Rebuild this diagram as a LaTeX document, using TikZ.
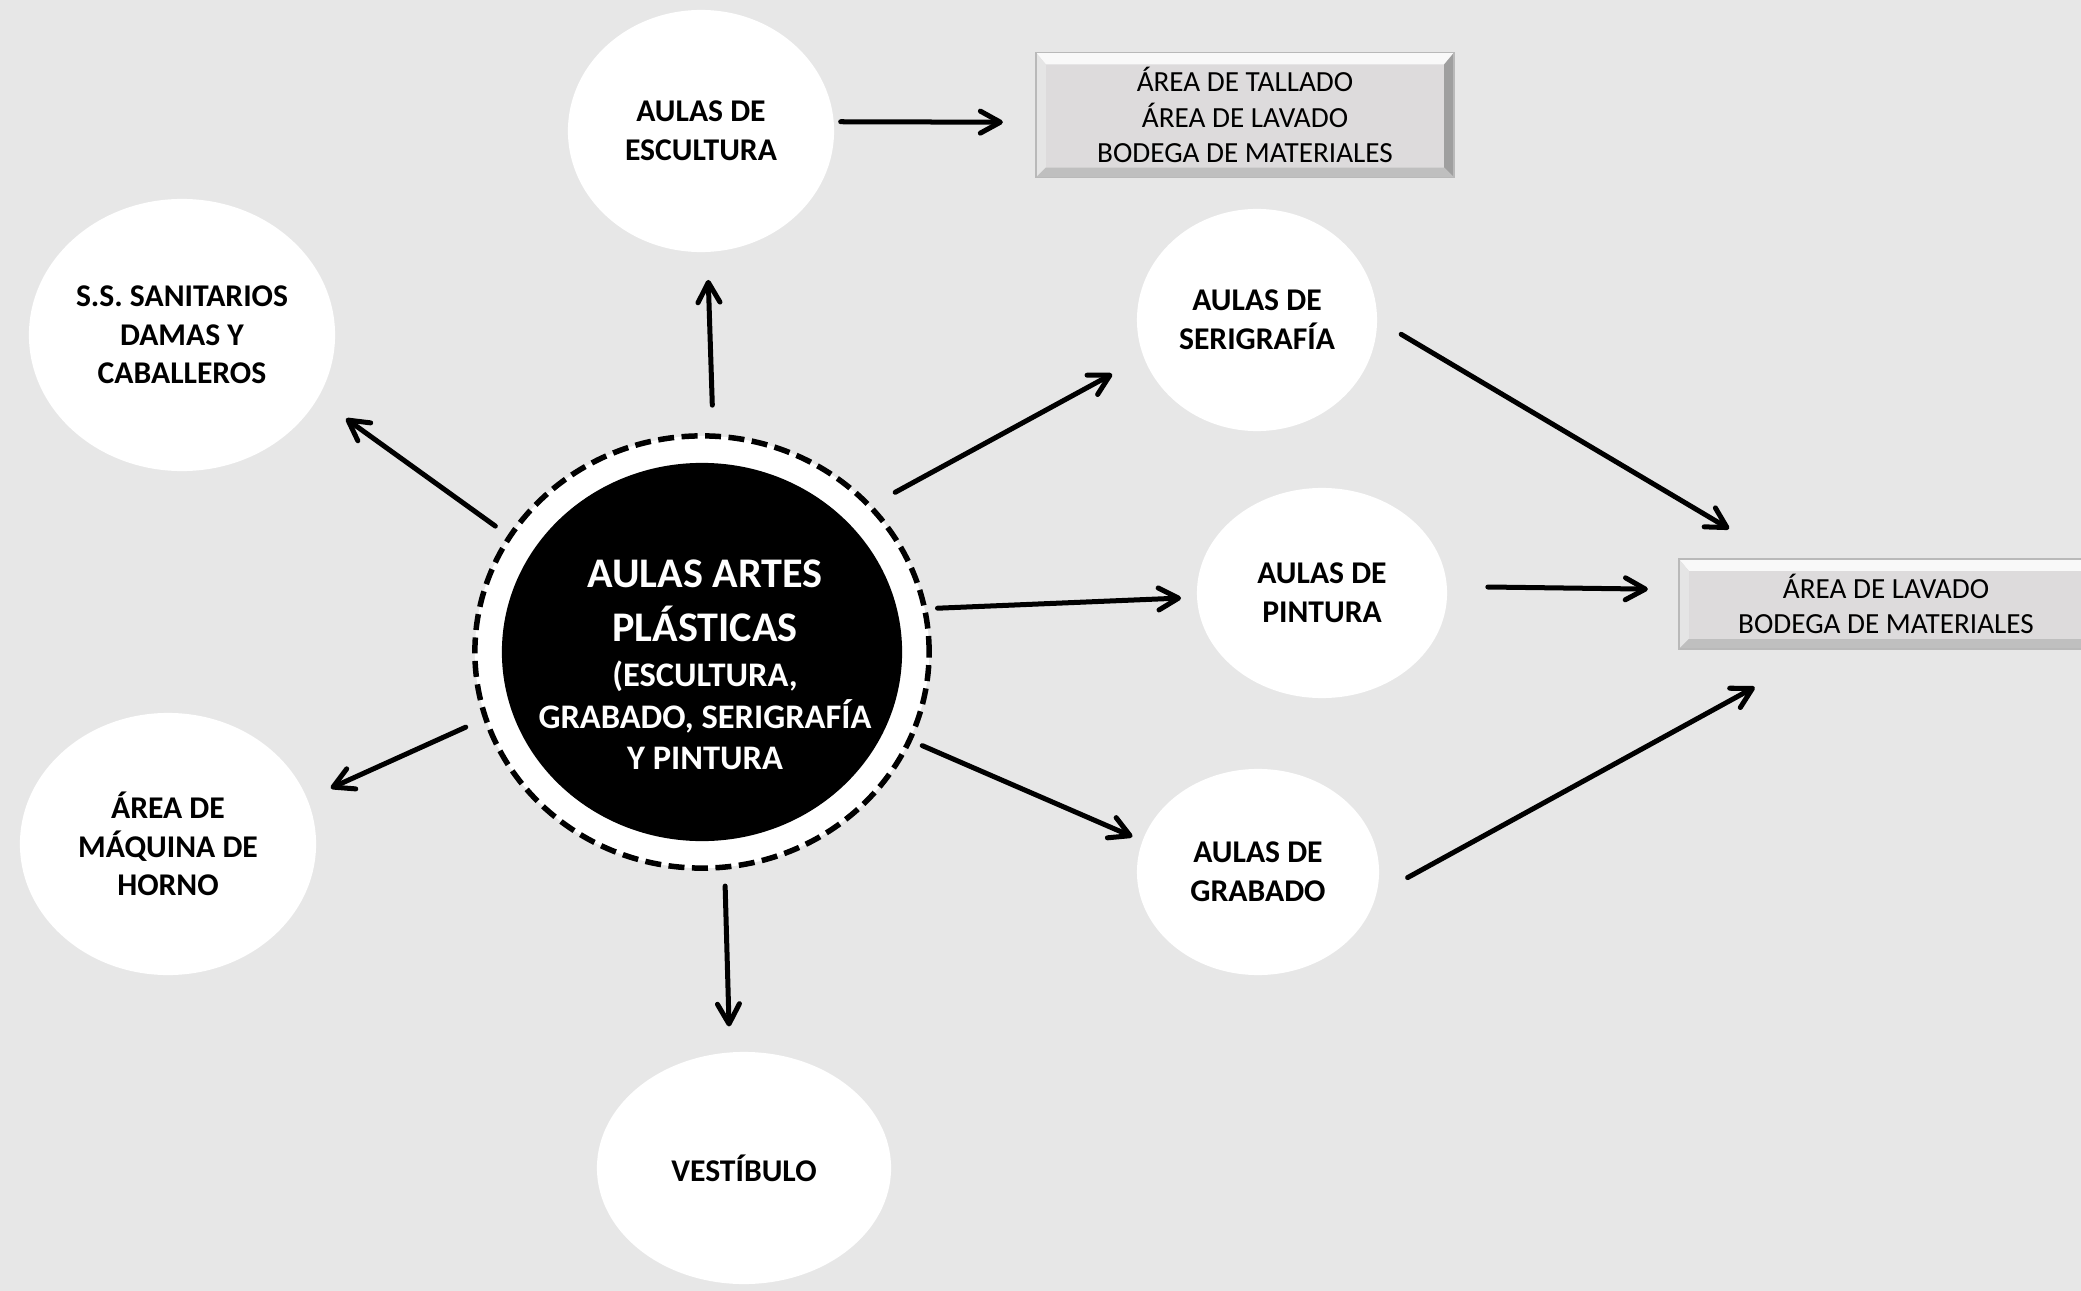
\documentclass[tikz,border=0pt]{standalone}
\usepackage{fontspec}
\setmainfont{Carlito}
\usetikzlibrary{arrows.meta,shapes.geometric,calc}
\definecolor{fondo}{HTML}{E7E7E7}
\definecolor{cara}{HTML}{DDDBDC}
% bisel de las cajas grises
\newcommand{\bisel}[1]{%
  \fill[white!95!gray] (#1.north west) -- (#1.north east) -- ($(#1.north east)+(-0.1cm,-0.12cm)$) -- ($(#1.north west)+(0.1cm,-0.12cm)$) -- cycle;
  \fill[gray!20] (#1.north west) -- ($(#1.north west)+(0.1cm,-0.12cm)$) -- ($(#1.south west)+(0.1cm,0.1cm)$) -- (#1.south west) -- cycle;
  \fill[gray!75] (#1.north east) -- ($(#1.north east)+(-0.1cm,-0.12cm)$) -- ($(#1.south east)+(-0.1cm,0.1cm)$) -- (#1.south east) -- cycle;
  \fill[gray!50] (#1.south west) -- ($(#1.south west)+(0.1cm,0.1cm)$) -- ($(#1.south east)+(-0.1cm,0.1cm)$) -- (#1.south east) -- cycle;
  \draw[gray!55, line width=0.4pt] (#1.north west) rectangle (#1.south east);}

\begin{document}
\begin{tikzpicture}[x=0.01cm, y=-0.01cm,
  sala/.style={ellipse, fill=white, inner sep=0pt, outer sep=0pt, align=center,
    font=\bfseries\fontsize{9}{11}\selectfont},
  caja/.style={rectangle, fill=cara, inner sep=0pt, outer sep=0pt, align=center,
    font=\fontsize{8.3}{10.1}\selectfont},
  flecha/.style={line width=0.05cm, line cap=round,
    -{Straight Barb[length=0.2cm, width=0.22cm, round]}}]
  \path[use as bounding box] (0,0) rectangle (2081,1291);
  \clip (0,0) rectangle (2081,1291);
  \fill[fondo] (0,0) rectangle (2081,1291);

  % centro
  \node[ellipse, fill=white, draw, line width=0.055cm, dash pattern=on 0.16cm off 0.075cm,
    minimum width=4.54cm, minimum height=4.32cm, outer sep=0pt] (core) at (702,652) {};
  \fill (core.center) ellipse [x radius=2cm, y radius=1.89cm];
  \node[text=white, font=\bfseries\fontsize{9.8}{11.8}\selectfont, align=center] (coretxt) at (705,665)
    {{\fontsize{12}{14.6}\selectfont AULAS ARTES}\\[3.5pt]
     {\fontsize{12}{14.6}\selectfont PLÁSTICAS}\\[1pt]
     (ESCULTURA,\\GRABADO, SERIGRAFÍA\\Y PINTURA};

  % salas
  \foreach \n/\x/\y/\w/\h/\txt in {esc/701/131/2.66/2.42/{AULAS DE\\ESCULTURA},
      san/182/335/3.06/2.72/{S.S. SANITARIOS\\DAMAS Y\\CABALLEROS},
      horno/168/844/2.96/2.62/{ÁREA DE\\MÁQUINA DE\\HORNO},
      vest/744/1168/2.94/2.32/{VESTÍBULO},
      seri/1257/320/2.40/2.22/{AULAS DE\\SERIGRAFÍA},
      pint/1322/593/2.50/2.10/{AULAS DE\\PINTURA},
      grab/1258/872/2.42/2.06/{AULAS DE\\GRABADO}}
    \node[sala, minimum width=\w cm, minimum height=\h cm] (\n) at (\x,\y) {\txt};

  % cajas
  \node[caja, minimum width=4.18cm, minimum height=1.25cm] (boxT) at (1245,115) {};
  \node[caja, minimum width=4.14cm, minimum height=0.90cm] (boxR) at (1886,604) {};
  \bisel{boxT} \bisel{boxR}
  \node[caja, fill=none] (boxTtxt) at (boxT) {ÁREA DE TALLADO\\ÁREA DE LAVADO\\BODEGA DE MATERIALES};
  \node[caja, fill=none] (boxRtxt) at (boxR) {ÁREA DE LAVADO\\BODEGA DE MATERIALES};

  % flechas
  \foreach \a/\b/\s/\e in {esc.4/boxT.182/0.07/0.33, core.87/esc.-87/0.31/0.28,
      core.149/san.-25/0.18/0.35, core.197/horno.18/0.22/0.26,
      core.-84/vest.97/0.19/0.26, core.41/seri.198/0.29/0.36,
      core.11/pint.182/0.13/0.16, core.-23/grab.165/0.14/0.11,
      seri.0/boxR.157/0.28/0.59, pint.3/boxR.176/0.41/0.31,
      grab.-11/boxR.216/0.36/0.79}
    \draw[flecha, shorten <=\s cm, shorten >=\e cm] (\a) -- (\b);
\end{tikzpicture}
\end{document}
